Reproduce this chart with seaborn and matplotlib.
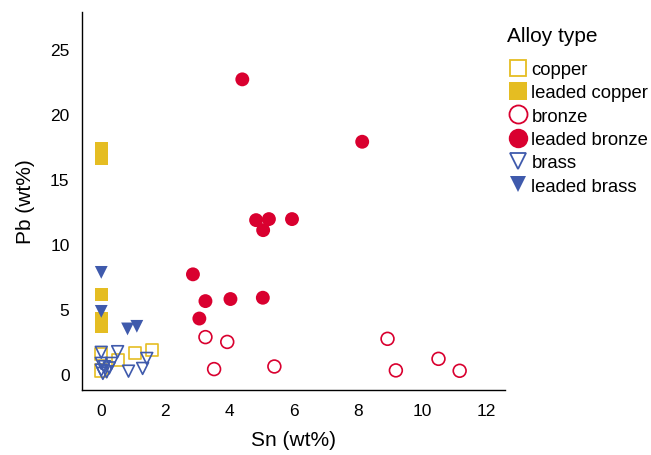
import matplotlib
matplotlib.use("Agg")
import matplotlib.pyplot as plt
import seaborn as sns
import pandas as pd
from matplotlib.lines import Line2D

categories = ["copper", "leaded copper", "bronze", "leaded bronze", "brass", "leaded brass"]

copper_sn = [0, 0, 0.51, 1.04, 1.58]
copper_pb = [1.54, 0.3, 1.1, 1.67, 1.87]

leaded_copper_sn = [0, 0, 0, 0, 0]
leaded_copper_pb = [17.4, 16.6, 6.15, 4.3, 3.7]

bronze_sn = [3.25, 3.93, 3.52, 5.4, 8.93, 9.19, 10.52, 11.18]
bronze_pb = [2.87, 2.5, 0.41, 0.61, 2.74, 0.31, 1.2, 0.28]

leaded_bronze_sn = [4.40, 8.14, 4.83, 5.23, 5.95, 5.05, 2.86, 3.25, 4.03, 5.04, 3.06]
leaded_bronze_pb = [22.7, 17.9, 11.87, 11.95, 11.95, 11.1, 7.7, 5.64, 5.8, 5.9, 4.3]

brass_sn = [0, 0.51, 0, 0.32, 0, 0.17, 0.05, 0.85, 1.29, 1.42, 0.1, 0.25]
brass_pb = [1.7, 1.75, 0.85, 0.85, 0.33, 0.2, 0.08, 0.25, 0.46, 1.23, 0.6, 0.5]

leaded_brass_sn = [0, 0, 0.82, 1.11]
leaded_brass_pb = [7.85, 4.85, 3.5, 3.7]

x_ticks = [0, 2, 4, 6, 8, 10, 12]
y_ticks = [0, 5, 10, 15, 20, 25]

YELLOW = "#E5BD22"
RED = "#D9002F"
BLUE = "#3F5AAC"

styles = {
    "copper": dict(marker="s", color=YELLOW, filled=False),
    "leaded copper": dict(marker="s", color=YELLOW, filled=True),
    "bronze": dict(marker="o", color=RED, filled=False),
    "leaded bronze": dict(marker="o", color=RED, filled=True),
    "brass": dict(marker="v", color=BLUE, filled=False),
    "leaded brass": dict(marker="v", color=BLUE, filled=True),
}

series = {
    "copper": (copper_sn, copper_pb),
    "leaded copper": (leaded_copper_sn, leaded_copper_pb),
    "bronze": (bronze_sn, bronze_pb),
    "leaded bronze": (leaded_bronze_sn, leaded_bronze_pb),
    "brass": (brass_sn, brass_pb),
    "leaded brass": (leaded_brass_sn, leaded_brass_pb),
}

rows = []
for cat in categories:
    xs, ys = series[cat]
    for x, y in zip(xs, ys):
        rows.append({"Sn": x, "Pb": y, "Alloy type": cat})
df = pd.DataFrame(rows)

sns.set_style("white")
plt.rcParams["font.family"] = ["Liberation Sans", "DejaVu Sans"]
plt.rcParams["text.color"] = "black"
plt.rcParams["axes.labelcolor"] = "black"
plt.rcParams["xtick.color"] = "black"
plt.rcParams["ytick.color"] = "black"

fig = plt.figure(figsize=(6.51, 4.56), dpi=100)
ax = fig.add_axes([0.126, 0.1425, 0.65, 0.8295])

sizes = {"s": 90, "o": 100, "v": 85}
for cat in categories:
    st = styles[cat]
    sub = df[df["Alloy type"] == cat]
    if st["filled"]:
        sns.scatterplot(data=sub, x="Sn", y="Pb", ax=ax, marker=st["marker"],
                        color=st["color"], edgecolor="none", s=sizes[st["marker"]],
                        linewidth=0, legend=False)
    else:
        sns.scatterplot(data=sub, x="Sn", y="Pb", ax=ax, marker=st["marker"],
                        facecolor="none", edgecolor=st["color"],
                        s=sizes[st["marker"]] * 0.85, linewidth=1.2, legend=False)

ax.set_xlim(-0.6, 12.6)
ax.set_ylim(-1.2, 27.9)
ax.set_xticks(x_ticks)
ax.set_yticks(y_ticks)
ax.tick_params(axis="both", length=0, labelsize=12.5, pad=9, colors="black")
ax.set_xlabel("Sn (wt%)", fontsize=15, labelpad=9, color="black")
ax.set_ylabel("Pb (wt%)", fontsize=15, labelpad=11, color="black")
for s in ["top", "right"]:
    ax.spines[s].set_visible(False)
for s in ["left", "bottom"]:
    ax.spines[s].set_color("black")
    ax.spines[s].set_linewidth(1.0)
ax.grid(False)

handles = []
for cat in categories:
    st = styles[cat]
    ms = {"s": 13, "o": 14, "v": 12}[st["marker"]]
    if st["filled"]:
        h = Line2D([], [], linestyle="none", marker=st["marker"], markersize=ms,
                   markerfacecolor=st["color"], markeredgecolor=st["color"], markeredgewidth=0)
    else:
        h = Line2D([], [], linestyle="none", marker=st["marker"], markersize=ms - 1,
                   markerfacecolor="none", markeredgecolor=st["color"], markeredgewidth=1.3)
    handles.append(h)

leg = fig.legend(handles, categories, title="Alloy type", loc="upper left",
                 bbox_to_anchor=(0.768, 0.958), frameon=False, fontsize=13.3,
                 title_fontsize=15, handletextpad=0.1, labelspacing=0.34,
                 handlelength=1.2, borderaxespad=0)
leg._legend_box.align = "left"
leg._legend_box.sep = 12
for t in leg.get_texts():
    t.set_color("black")
leg.get_title().set_color("black")

fig.savefig("out.png", dpi=100)
